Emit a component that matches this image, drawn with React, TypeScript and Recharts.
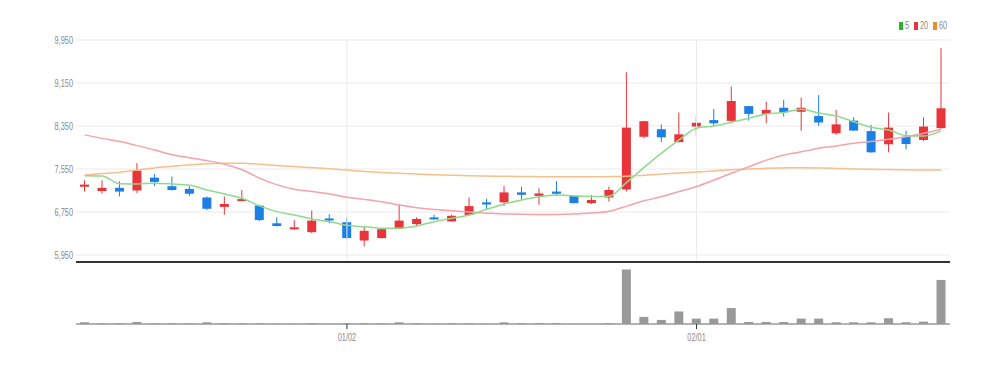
import React from 'react';
import { ComposedChart, Bar, Line, XAxis, YAxis, CartesianGrid, ReferenceLine } from 'recharts';

const dates = [
  '12/07', '12/08', '12/11', '12/12', '12/13', '12/14', '12/15', '12/18', '12/19', '12/20',
  '12/21', '12/22', '12/26', '12/27', '12/28', '01/02', '01/03', '01/04', '01/05', '01/08',
  '01/09', '01/10', '01/11', '01/12', '01/15', '01/16', '01/17', '01/18', '01/19', '01/22',
  '01/23', '01/24', '01/25', '01/26', '01/29', '02/01', '02/02', '02/05', '02/06', '02/07',
  '02/08', '02/09', '02/12', '02/13', '02/14', '02/19', '02/20', '02/21', '02/22', '02/23',
];

const opens = [
  7220, 7140, 7200, 7150, 7390, 7230, 7180, 7020, 6845, 6960,
  6870, 6540, 6430, 6375, 6630, 6560, 6220, 6265, 6440, 6525,
  6650, 6575, 6695, 6930, 6930, 7115, 7050, 7130, 7050, 6915,
  7020, 7170, 8150, 8290, 8050, 8340, 8460, 8445, 8720, 8575,
  8690, 8615, 8535, 8215, 8450, 8255, 8010, 8150, 8090, 8310,
];
const closes = [
  7260, 7200, 7130, 7520, 7310, 7160, 7090, 6810, 6900, 6990,
  6600, 6490, 6465, 6590, 6600, 6265, 6400, 6430, 6590, 6620,
  6620, 6680, 6860, 6890, 7115, 7070, 7095, 7090, 6915, 6975,
  7160, 8320, 8440, 8140, 8195, 8410, 8400, 8815, 8575, 8650,
  8605, 8690, 8415, 8380, 8265, 7860, 8320, 8015, 8340, 8680,
];
const highs = [
  7340, 7340, 7320, 7660, 7460, 7410, 7230, 7040, 7040, 7160,
  6880, 6650, 6600, 6780, 6710, 6645, 6480, 6440, 6890, 6650,
  6700, 6700, 7020, 6995, 7235, 7220, 7190, 7325, 7055, 7065,
  7220, 9350, 8445, 8380, 8600, 8535, 8665, 9080, 8725, 8805,
  8835, 8875, 8925, 8650, 8510, 8370, 8600, 8260, 8510, 9800,
];
const lows = [
  7130, 7090, 7040, 7100, 7230, 7150, 7050, 6790, 6700, 6955,
  6580, 6480, 6415, 6355, 6540, 6245, 6110, 6255, 6440, 6490,
  6600, 6570, 6690, 6800, 6860, 6975, 6885, 7050, 6910, 6900,
  6945, 7130, 8120, 8050, 8045, 8170, 8350, 8410, 8450, 8400,
  8525, 8260, 8350, 8185, 8260, 7855, 7860, 7915, 8070, 8305,
];
const volumes = [
  42000, 18000, 18000, 50000, 18000, 18000, 18000, 42000, 18000, 18000,
  18000, 6000, 6000, 18000, 6000, 18000, 18000, 18000, 42000, 18000,
  6000, 18000, 18000, 6000, 40000, 22000, 22000, 22000, 5000, 5000,
  22000, 1340000, 175000, 100000, 308000, 133000, 133000, 392000, 50000, 50000,
  50000, 133000, 133000, 42000, 42000, 42000, 142000, 42000, 58000, 1083000,
];
const ma5 = [
  7425, 7420, 7275, 7272, 7285, 7272, 7250, 7160, 7085, 7005,
  6865, 6757, 6695, 6620, 6570, 6505, 6475, 6450, 6450, 6490,
  6570, 6633, 6695, 6800, 6900, 6975, 7035, 7065, 7050, 7040,
  7045, 7300, 7580, 7845, 8090, 8310, 8350, 8420, 8495, 8575,
  8600, 8660, 8590, 8535, 8430, 8325, 8275, 8170, 8165, 8260,
];
const ma20 = [
  8185, 8120, 8060, 7985, 7905, 7815, 7760, 7705, 7640, 7535,
  7380, 7255, 7175, 7130, 7085, 7025, 6985, 6940, 6880, 6830,
  6795, 6775, 6750, 6728, 6715, 6708, 6705, 6705, 6712, 6730,
  6765, 6860, 6960, 7035, 7130, 7225, 7345, 7470, 7595, 7715,
  7810, 7870, 7935, 7980, 8030, 8060, 8105, 8150, 8215, 8290,
];
const ma60 = [
  7440, 7465, 7490, 7530, 7570, 7600, 7630, 7650, 7655, 7655,
  7640, 7615, 7595, 7575, 7555, 7530, 7505, 7485, 7470, 7455,
  7445, 7435, 7425, 7420, 7415, 7410, 7408, 7405, 7405, 7405,
  7408, 7415, 7435, 7455, 7475, 7495, 7515, 7535, 7550, 7562,
  7570, 7575, 7570, 7560, 7550, 7545, 7540, 7535, 7532, 7532,
];

const priceTicks = [5950, 6750, 7550, 8350, 9150, 9950];
const dateTicks = ['01/02', '02/01'];
const PRICE_MIN = 5820;
const PRICE_MAX = 9950;

const RED = '#e8353b';
const BLUE = '#1b7fe6';
const FONT = '"Liberation Sans", Arial, sans-serif';
const TEXT = '#8a8a8a';

const rows = dates.map((date, i) => ({
  date,
  open: opens[i],
  close: closes[i],
  high: highs[i],
  low: lows[i],
  volume: volumes[i],
  ma5: ma5[i],
  ma20: ma20[i],
  ma60: ma60[i],
}));

// body + wick drawn inside the [low, high] range bar
const Candle = (props: any) => {
  const { x, y, width, height, payload } = props;
  if (!payload || x == null) return null;
  const { open, close, high, low } = payload;
  const top = Math.min(y, y + height);
  const h = Math.abs(height);
  const toY = (v: number) => top + ((high - v) / (high - low)) * h;
  const color = close >= open ? RED : BLUE;
  const bTop = toY(Math.max(open, close));
  const bBot = toY(Math.min(open, close));
  const cx = x + width / 2;
  return (
    <g>
      <line x1={cx} x2={cx} y1={top} y2={top + h} stroke={color} strokeWidth={1} />
      <rect x={x} y={bTop} width={width} height={Math.max(bBot - bTop, 2)} fill={color} />
    </g>
  );
};

// narrow-looking tick text
const PriceTick = (props: any) => {
  const { x, y, payload } = props;
  return (
    <g transform={`translate(${x},${y}) scale(0.74,1)`}>
      <text x={0} y={0} dy="0.35em" textAnchor="end" fontSize={10} fill={TEXT} fontFamily={FONT}>
        {Number(payload.value).toLocaleString('en-US')}
      </text>
    </g>
  );
};

const DateTick = (props: any) => {
  const { x, y, payload } = props;
  return (
    <g transform={`translate(${x},${y}) scale(0.74,1)`}>
      <text x={0} y={0} dy="0.8em" textAnchor="middle" fontSize={10} fill={TEXT} fontFamily={FONT}>
        {payload.value}
      </text>
    </g>
  );
};

const legendItems = [
  { label: '5', color: '#2cb52c', left: 899 },
  { label: '20', color: '#e8353b', left: 914 },
  { label: '60', color: '#f08a2c', left: 933 },
];

export default function App() {
  return (
    <div style={{ position: 'absolute', left: 0, top: 0, width: 1004, height: 365, background: '#fff', fontFamily: FONT }}>
      {legendItems.map((it) => (
        <div key={it.label} style={{ position: 'absolute', left: it.left, top: 21, height: 10, display: 'flex', alignItems: 'center', zIndex: 2 }}>
          <span style={{ display: 'inline-block', width: 4, height: 8, background: it.color }} />
          <span style={{ display: 'inline-block', marginLeft: 2, fontSize: 10, lineHeight: '10px', color: TEXT, transform: 'scaleX(0.74)', transformOrigin: 'left center' }}>
            {it.label}
          </span>
        </div>
      ))}
      <div style={{ position: 'absolute', left: 0, top: 0 }}>
        <ComposedChart width={1004} height={265} data={rows} margin={{ top: 40, right: 54, bottom: 3, left: 0 }}>
          <CartesianGrid stroke="#ebebeb" vertical={false} />
          {dateTicks.map((d) => (
            <ReferenceLine key={d} x={d} stroke="#ebebeb" />
          ))}
          <XAxis dataKey="date" ticks={dateTicks} interval={0} tick={false} tickLine={false} height={0} axisLine={false} />
          <YAxis
            domain={[PRICE_MIN, PRICE_MAX]}
            ticks={priceTicks}
            allowDataOverflow
            width={76}
            tickLine={false}
            axisLine={false}
            tickSize={0}
            tickMargin={3}
            tick={<PriceTick />}
          />
          <Line type="monotone" dataKey="ma60" stroke="#f6bf8c" strokeWidth={1.5} dot={false} activeDot={false} isAnimationActive={false} />
          <Line type="monotone" dataKey="ma20" stroke="#f5a2a9" strokeWidth={1.5} dot={false} activeDot={false} isAnimationActive={false} />
          <Line type="monotone" dataKey="ma5" stroke="#8fda8f" strokeWidth={1.5} dot={false} activeDot={false} isAnimationActive={false} />
          <Bar
            dataKey={(d: any) => [d.low, d.high]}
            barSize={9}
            shape={(p: any) => <Candle {...p} />}
            isAnimationActive={false}
          />
          <ReferenceLine y={PRICE_MIN} stroke="#333" strokeWidth={2} />
        </ComposedChart>
      </div>
      <div style={{ position: 'absolute', left: 0, top: 265 }}>
        <ComposedChart width={1004} height={100} data={rows} margin={{ top: 0, right: 54, bottom: 0, left: 0 }}>
          <XAxis
            dataKey="date"
            ticks={dateTicks}
            interval={0}
            height={41}
            tickSize={5}
            tickMargin={4}
            tickLine={{ stroke: '#333' }}
            axisLine={{ stroke: '#999', strokeWidth: 1.5 }}
            tick={<DateTick />}
          />
          <YAxis domain={[0, 1450000]} width={76} tick={false} tickLine={false} axisLine={false} />
          <Bar dataKey="volume" fill="#999" barSize={9} isAnimationActive={false} />
        </ComposedChart>
      </div>
    </div>
  );
}
